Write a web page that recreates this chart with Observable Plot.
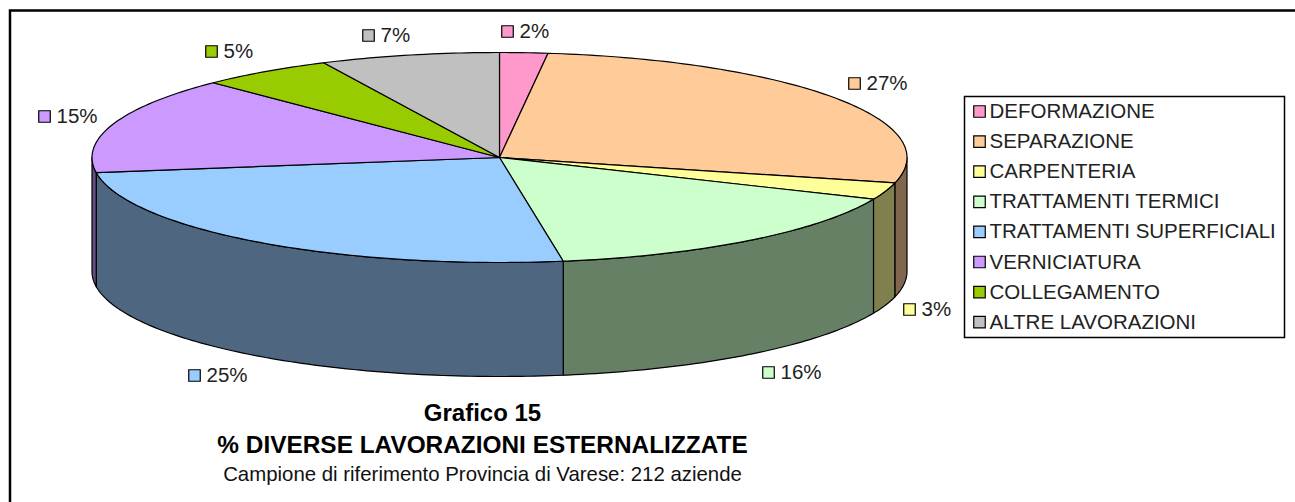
<!DOCTYPE html>
<html><head><meta charset="utf-8">
<style>html,body{margin:0;padding:0;background:#fff}svg{display:block}</style>
<script src="https://cdn.jsdelivr.net/npm/d3@7"></script>
<script src="https://cdn.jsdelivr.net/npm/@observablehq/plot@0.6"></script>
</head><body><div id="c"></div><script>
const categories=["DEFORMAZIONE","SEPARAZIONE","CARPENTERIA","TRATTAMENTI TERMICI","TRATTAMENTI SUPERFICIALI","VERNICIATURA","COLLEGAMENTO","ALTRE LAVORAZIONI"];
const values=[1.9,27,2.6,16,25.2,14.9,5.3,7.1];
const colors=["#ff99cc","#ffcc99","#ffff99","#ccffcc","#99ccff","#cc99ff","#99cc00","#c0c0c0"];
const sideColors=["#805066","#80664f","#80804f","#668066","#4f6680","#664f80","#4f6600","#606060"];
const labelPos=[[507,31],[854,83],[909,309],[768,372],[194,375],[44,116],[211,51],[368,35]];
const W=1295,H=502,cx=499,cy=157,rx=407.5,ry=105,depth=114;
const pt=(deg,dy=0)=>({x:cx+rx*Math.sin(deg*Math.PI/180),y:cy-ry*Math.cos(deg*Math.PI/180)+dy});
let acc=0;const slices=values.map((v,i)=>{const a=acc*3.6;acc+=v;return{i,a,b:acc*3.6}});
const topFaces=[],sideFaces=[];
const step=1;
for(const s of slices){
  const key="t"+s.i,fill=colors[s.i];
  topFaces.push({x:cx,y:cy,key,fill});
  for(let t=s.a;t<s.b;t+=step)topFaces.push({...pt(t),key,fill});
  topFaces.push({...pt(s.b),key,fill});
  topFaces.push({x:cx,y:cy,key,fill});
  const a=Math.max(s.a,90),b=Math.min(s.b,270);
  if(b>a){const k="s"+s.i,f=sideColors[s.i],arc=[];
    for(let t=a;t<b;t+=step)arc.push(t);arc.push(b);
    for(const t of arc)sideFaces.push({...pt(t),key:k,fill:f});
    for(const t of arc.slice().reverse())sideFaces.push({...pt(t,depth),key:k,fill:f});
    sideFaces.push({...pt(arc[0]),key:k,fill:f});}
}
const legX=972,legY0=111,legStep=30.1;
const legend=categories.map((c,i)=>({c,i,x:legX+7,y:legY0+i*legStep}));
const labels=values.map((v,i)=>({x:labelPos[i][0],y:labelPos[i][1],t:Math.round(v)+"%",i}));
const font="Liberation Sans";
const poly=(d)=>Plot.line(d,{x:"x",y:"y",z:"key",fill:"fill",stroke:"#000",strokeWidth:1.2,curve:"linear",strokeLinejoin:"round"});
const plot=Plot.plot({width:W,height:H,margin:0,
  x:{type:"linear",domain:[0,W],range:[0,W],axis:null},
  y:{type:"linear",domain:[0,H],range:[0,H],axis:null},
  style:{fontFamily:font,background:"#fff"},
  marks:[
    Plot.rect([{a:10,b:1320,c:10.5,d:520}],{x1:"a",x2:"b",y1:"c",y2:"d",fill:"none",stroke:"#000",strokeWidth:2.5}),
    poly(sideFaces),poly(topFaces),
    Plot.rect([{a:964.5,b:1284.5,c:96.5,d:337.5}],{x1:"a",x2:"b",y1:"c",y2:"d",fill:"#fff",stroke:"#000",strokeWidth:1.5}),
    Plot.dot(legend,{x:"x",y:"y",symbol:"square",r:6.5,fill:d=>colors[d.i],stroke:"#000",strokeWidth:1.2}),
    Plot.text(legend,{x:d=>d.x+10,y:"y",text:"c",textAnchor:"start",fontSize:20.5,fill:"#222"}),
    Plot.dot(labels,{x:"x",y:"y",symbol:"square",r:6.5,fill:d=>colors[d.i],stroke:"#000",strokeWidth:1.2}),
    Plot.text(labels,{x:d=>d.x+12,y:"y",text:"t",textAnchor:"start",fontSize:20.5,fill:"#222"}),
    Plot.text(["Grafico 15"],{x:()=>482,y:()=>413,textAnchor:"middle",fontSize:24,fontWeight:"bold",fill:"#000"}),
    Plot.text(["% DIVERSE LAVORAZIONI ESTERNALIZZATE"],{x:()=>482,y:()=>445,textAnchor:"middle",fontSize:24.4,fontWeight:"bold",fill:"#000"}),
    Plot.text(["Campione di riferimento Provincia di Varese: 212 aziende"],{x:()=>482,y:()=>474,textAnchor:"middle",fontSize:20.4,fill:"#111"})
  ]});
document.getElementById("c").appendChild(plot);
</script></body></html>
